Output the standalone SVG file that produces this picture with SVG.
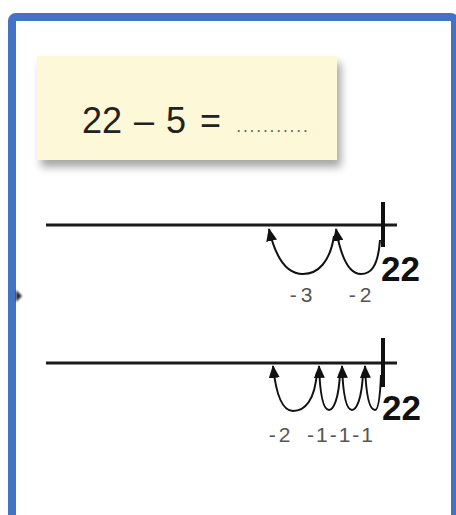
<svg xmlns="http://www.w3.org/2000/svg" width="456" height="515" viewBox="0 0 456 515">
<style>
.ln{stroke:#1a1a1a;stroke-width:3;fill:none}
.tick{stroke:#111;stroke-width:4}
.arc{stroke:#111;stroke-width:2;fill:none;marker-end:url(#ah)}
.lbl{font-family:"Liberation Sans",Arial,sans-serif;font-size:21px;fill:#555}
.big{font-family:"Liberation Sans",Arial,sans-serif;font-size:35px;font-weight:bold;fill:#111}
.eq{font-family:"Liberation Sans",Arial,sans-serif;font-size:36px;fill:#222}
</style>
<defs>
<marker id="ah" viewBox="0 0 13 11" refX="12" refY="5.5" markerWidth="13" markerHeight="11" markerUnits="userSpaceOnUse" orient="auto">
<path d="M0,0 L13,5.5 L0,11 z" fill="#111"/>
</marker>
<filter id="sh" x="-10%" y="-20%" width="125%" height="150%">
<feDropShadow dx="4" dy="7" stdDeviation="4" flood-color="#000" flood-opacity="0.35"/>
</filter>
<filter id="bl"><feGaussianBlur stdDeviation="1.2"/></filter>
</defs>
<rect width="456" height="515" fill="#fff"/>
<rect id="frame" x="12" y="17" width="443" height="510" rx="4" fill="#fff" stroke="#4472c4" stroke-width="8"/>
<polygon points="16,290 22,296 16,302" fill="#222" filter="url(#bl)"/>
<g id="question">
<rect x="37" y="56" width="300" height="104" fill="#fdf9d8" filter="url(#sh)"/>
<text class="eq" x="82" y="133">22</text>
<text class="eq" x="134" y="133">–</text>
<text class="eq" x="166" y="133">5</text>
<text class="eq" x="200" y="133">=</text>
<text x="237" y="132" font-family="Liberation Sans,Arial,sans-serif" font-size="12" font-weight="bold" fill="#666" textLength="70" lengthAdjust="spacing">...........</text>
</g>
<g id="line1">
<line class="ln" x1="46" y1="225" x2="397" y2="225"/>
<line class="tick" x1="383" y1="202" x2="383" y2="247"/>
<text class="big" x="381" y="281">22</text>
<text class="lbl" x="303" y="302" text-anchor="middle" letter-spacing="4">-3</text>
<text class="lbl" x="362" y="302" text-anchor="middle" letter-spacing="4">-2</text>
</g>
<g id="line2">
<line class="ln" x1="46" y1="363" x2="397" y2="363"/>
<line class="tick" x1="383" y1="338" x2="383" y2="387"/>
<text class="big" x="382" y="420">22</text>
<text class="lbl" x="281" y="442" text-anchor="middle" letter-spacing="3">-2</text>
<text class="lbl" x="307" y="442" textLength="66" lengthAdjust="spacing">-1-1-1</text>
</g>
<g id="connectors">
<path class="arc" d="M380,240 C378,268 370,274 361,274 C349,274 341,258 336,229"/>
<path class="arc" d="M334,236 C330,262 318,274 303,274 C288,274 276,260 269,229"/>
<path class="arc" d="M381,375 C380,400 378,410 375,410 C369,410 366,395 365,366"/>
<path class="arc" d="M363,372 C362,400 356,410 352,410 C346,410 343,395 342,366"/>
<path class="arc" d="M340,372 C339,400 333,410 329,410 C323,410 320,395 319,366"/>
<path class="arc" d="M317,372 C315,400 305,411 293,411 C282,411 276,395 273,366"/>
</g>
</svg>
